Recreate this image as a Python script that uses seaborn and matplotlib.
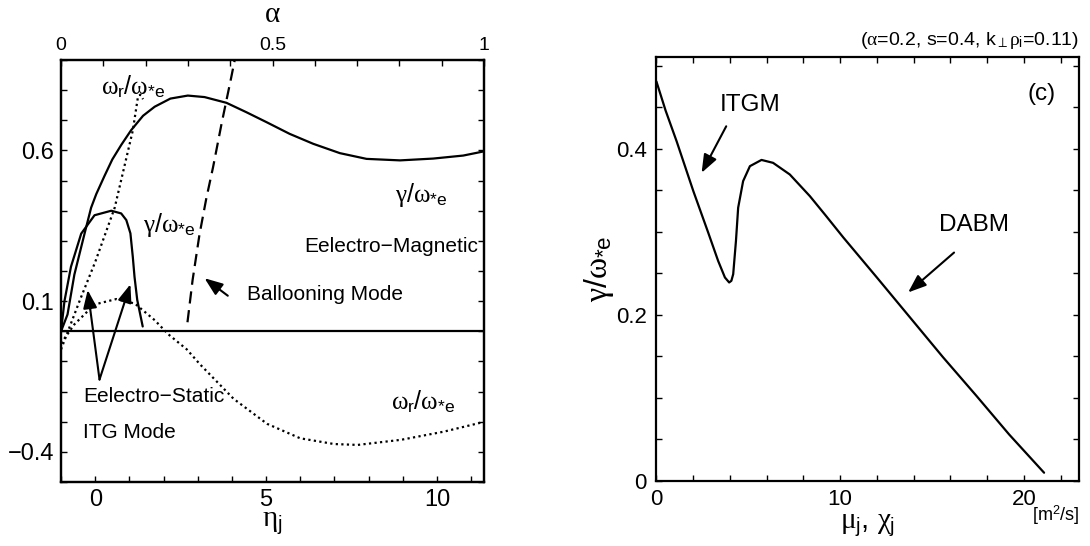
import matplotlib
matplotlib.use("Agg")
import matplotlib.pyplot as plt
from matplotlib.ticker import FixedLocator, MultipleLocator
import seaborn as sns

# ---- left panel: scan in eta_j (top axis alpha) ----
em_gamma_eta = [-1.0, -0.81, -0.61, -0.31, -0.12, 0.03, 0.27, 0.5, 0.76, 1.05, 1.4, 1.74, 2.2, 2.71,
                3.2, 3.84, 4.42, 5.01, 5.69, 6.38, 7.16, 7.94, 8.92, 9.89, 10.77, 11.38]
em_gamma = [0.0, 0.056, 0.188, 0.325, 0.41, 0.455, 0.515, 0.57, 0.618, 0.667, 0.715, 0.745, 0.772, 0.782,
            0.777, 0.758, 0.727, 0.694, 0.655, 0.622, 0.591, 0.572, 0.567, 0.573, 0.583, 0.597]

es_gamma_eta = [-1.0, -0.9, -0.71, -0.41, -0.02, 0.47, 0.76, 0.91, 1.03, 1.10, 1.15, 1.23, 1.33, 1.39]
es_gamma = [0.0, 0.1, 0.214, 0.324, 0.385, 0.40, 0.391, 0.369, 0.325, 0.247, 0.181, 0.104, 0.049, 0.016]

es_omega_eta = [-1.0, -0.46, 0.0, 0.57, 1.1, 1.25, 1.32, 1.4]
es_omega = [-0.06, 0.10, 0.23, 0.41, 0.666, 0.777, 0.785, 0.77]

em_omega_eta = [-1.0, -0.61, -0.02, 0.62, 1.16, 1.74, 2.14, 2.68, 3.07, 4.05, 5.03, 6.0, 6.99, 7.68,
                8.95, 10.2, 11.4]
em_omega = [-0.04, 0.023, 0.089, 0.107, 0.092, 0.037, -0.01, -0.06, -0.11, -0.224, -0.307, -0.355,
            -0.374, -0.377, -0.36, -0.333, -0.30]

bal_eta = [2.70, 2.85, 3.05, 3.25, 3.45, 3.7, 3.98, 4.1]
bal_gamma = [0.03, 0.17, 0.32, 0.44, 0.545, 0.69, 0.842, 0.91]

# ---- right panel (c): scan in mu_j, chi_j ----
mu_chi = [0.0, 0.5, 1.1, 2.01, 2.82, 3.36, 3.73, 3.96, 4.08, 4.18, 4.33, 4.45, 4.72, 5.09, 5.72, 6.35,
          7.26, 8.35, 9.2, 10.18, 12.0, 13.8, 15.6, 17.4, 19.2, 21.1]
gamma_c = [0.481, 0.446, 0.409, 0.349, 0.299, 0.265, 0.245, 0.239, 0.241, 0.249, 0.289, 0.329, 0.361,
           0.379, 0.3865, 0.383, 0.369, 0.343, 0.32, 0.293, 0.245, 0.197, 0.149, 0.103, 0.056, 0.01]

sns.set_theme(style="ticks")
plt.rcParams["font.family"] = ["Liberation Sans", "DejaVu Sans"]
plt.rcParams.update({
    "mathtext.fontset": "custom",
    "mathtext.rm": "Liberation Sans",
    "mathtext.it": "Liberation Serif",
    "mathtext.bf": "Liberation Sans:bold",
    "axes.edgecolor": "black",
    "axes.labelcolor": "black",
    "text.color": "black",
    "xtick.color": "black",
    "ytick.color": "black",
    "axes.linewidth": 1.6,
})

G = r"$\gamma/\omega_{*\mathrm{e}}$"
W = r"$\omega_{\mathrm{r}}/\omega_{*\mathrm{e}}$"
arrow = dict(arrowstyle="-|>,head_length=1.1,head_width=0.42", color="black", lw=1.5,
             shrinkA=0, shrinkB=0, mutation_scale=10)

fig = plt.figure(figsize=(10.9, 5.46), dpi=100)

ax = fig.add_axes([0.056, 0.1172, 0.3881, 0.7729])
sns.lineplot(x=em_gamma_eta, y=em_gamma, ax=ax, color="black", lw=1.6, sort=False, estimator=None)
sns.lineplot(x=es_gamma_eta, y=es_gamma, ax=ax, color="black", lw=1.6, sort=False, estimator=None)
sns.lineplot(x=es_omega_eta, y=es_omega, ax=ax, color="black", lw=1.6, ls=(0, (1, 1.5)),
             sort=False, estimator=None)
sns.lineplot(x=em_omega_eta, y=em_omega, ax=ax, color="black", lw=1.6, ls=(0, (1, 1.5)),
             sort=False, estimator=None)
sns.lineplot(x=bal_eta, y=bal_gamma, ax=ax, color="black", lw=1.6, ls=(0, (5.5, 3)),
             sort=False, estimator=None)
ax.axhline(0, color="black", lw=1.6)
ax.set_xlim(-1, 11.38)
ax.set_ylim(-0.5, 0.9)
ax.xaxis.set_major_locator(FixedLocator([0, 5, 10]))
ax.xaxis.set_minor_locator(MultipleLocator(1))
ax.yaxis.set_major_locator(FixedLocator([-0.4, 0.1, 0.6]))
ax.yaxis.set_minor_locator(MultipleLocator(0.1))
ax.set_xticklabels(["0", "5", "10"])
ax.set_yticklabels(["\u22120.4", "0.1", "0.6"])
ax.tick_params(which="both", direction="in", length=4, width=1, bottom=True, top=False,
               left=True, right=True)
ax.tick_params(axis="x", labelsize=17, pad=5)
ax.tick_params(axis="y", labelsize=17, pad=5)
ax.set_xlabel(r"$\eta_{\mathrm{j}}$", fontsize=21, labelpad=-2)
ax.set_ylabel("")

ax_top = ax.twiny()
ax_top.set_xlim(0, 1)
ax_top.xaxis.set_major_locator(FixedLocator([0, 0.5, 1]))
ax_top.xaxis.set_minor_locator(MultipleLocator(0.1))
ax_top.set_xticklabels(["0", "0.5", "1"])
ax_top.tick_params(which="both", direction="in", length=4, width=1, top=True, bottom=False,
                   labelsize=14, pad=4)
ax_top.set_xlabel(r"$\alpha$", fontsize=21, labelpad=11)

ax.text(0.18, 0.812, W, fontsize=18, va="center")
ax.text(1.39, 0.352, G, fontsize=18, va="center")
ax.text(8.77, 0.451, G, fontsize=18, va="center")
ax.text(11.2, 0.281, "Eelectro\u2212Magnetic", fontsize=15, va="center", ha="right")
ax.text(4.43, 0.121, "Ballooning Mode", fontsize=15, va="center")
ax.text(-0.36, -0.217, "Eelectro\u2212Static", fontsize=15, va="center")
ax.text(-0.36, -0.336, "ITG Mode", fontsize=15, va="center")
ax.text(8.67, -0.232, W, fontsize=18, va="center")
ax.annotate("", xy=(-0.22, 0.137), xytext=(0.126, -0.16), arrowprops=arrow)
ax.annotate("", xy=(1.03, 0.156), xytext=(0.126, -0.16), arrowprops=arrow)
ax.annotate("", xy=(3.2, 0.176), xytext=(3.88, 0.118), arrowprops=arrow)

axc = fig.add_axes([0.6022, 0.1190, 0.3877, 0.776])
sns.lineplot(x=mu_chi, y=gamma_c, ax=axc, color="black", lw=1.6, sort=False, estimator=None)
axc.set_xlim(0, 23)
axc.set_ylim(0, 0.51)
axc.xaxis.set_major_locator(FixedLocator([0, 10, 20]))
axc.xaxis.set_minor_locator(MultipleLocator(2))
axc.yaxis.set_major_locator(FixedLocator([0, 0.2, 0.4]))
axc.yaxis.set_minor_locator(MultipleLocator(0.05))
axc.set_xticklabels(["0", "10", "20"])
axc.set_yticklabels(["0", "0.2", "0.4"])
axc.tick_params(which="both", direction="in", length=4, width=1, bottom=True, top=True,
                left=True, right=True)
axc.tick_params(axis="x", labelsize=16, pad=6)
axc.tick_params(axis="y", labelsize=16, pad=7)
axc.set_xlabel(r"$\mu_{\mathrm{j}}$, $\chi_{\mathrm{j}}$", fontsize=21, labelpad=0)
axc.set_ylabel(G, fontsize=23, labelpad=0)
axc.text(1.0, 1.04, r"($\alpha$=0.2, s=0.4, k$_{\perp}\rho_{\mathrm{i}}$=0.11)", fontsize=14,
         transform=axc.transAxes, ha="right", va="center")
axc.text(1.0, -0.08, r"[m$^2$/s]", fontsize=13, transform=axc.transAxes, ha="right", va="center")
axc.text(20.96, 0.466, "(c)", fontsize=17.5, ha="center", va="center")
axc.text(3.47, 0.453, "ITGM", fontsize=17.5, va="center")
axc.text(15.4, 0.3085, "DABM", fontsize=17.5, va="center")
axc.annotate("", xy=(2.46, 0.371), xytext=(3.8, 0.427), arrowprops=arrow)
axc.annotate("", xy=(13.7, 0.227), xytext=(16.2, 0.275), arrowprops=arrow)

fig.savefig("out.png", dpi=100)
plt.close(fig)
